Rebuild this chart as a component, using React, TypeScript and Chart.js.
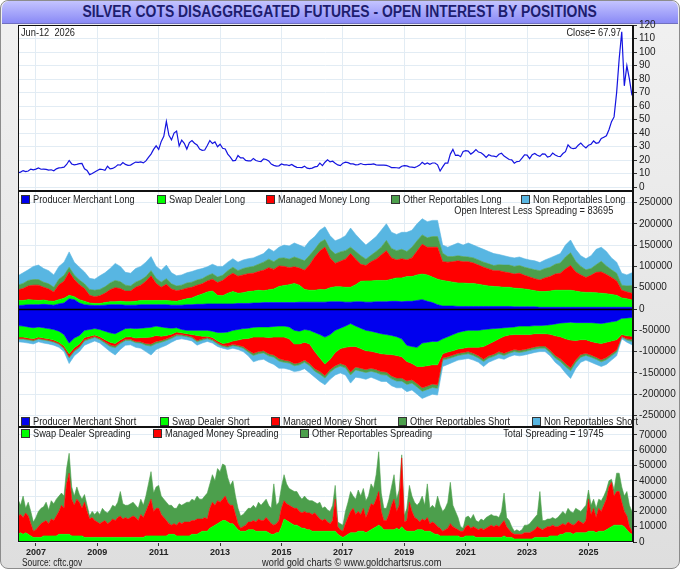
import React, { useEffect, useRef } from 'react';
import { Chart, registerables } from 'chart.js';

Chart.register(...registerables);

// ---- price, monthly Jun 2006 .. Jun 2026 ----
const silverPrice = [
    10.7, 11.2, 12.3, 11.6, 12.0, 13.4, 12.9,
    13.4, 14.2, 13.3, 13.4, 13.2, 12.7, 12.9, 12.2, 13.6, 14.3, 14.5, 14.8,
    16.8, 19.8, 17.2, 16.6, 16.9, 17.4, 17.6, 13.6, 12.4, 9.3, 10.2, 11.3,
    12.4, 13.3, 13.1, 12.5, 15.5, 13.6, 13.9, 14.9, 16.6, 16.3, 18.3, 16.9,
    16.2, 16.4, 17.6, 18.6, 18.4, 18.7, 18.0, 19.5, 22.0, 24.5, 28.0, 30.6,
    28.0, 33.9, 37.7, 48.6, 38.4, 35.0, 40.0, 41.5, 30.5, 34.8, 32.5, 28.2,
    33.0, 34.5, 32.5, 31.3, 28.3, 27.3, 27.5, 30.8, 34.5, 32.3, 33.5, 30.0,
    31.8, 28.8, 28.3, 24.5, 22.3, 19.5, 19.8, 23.5, 21.7, 21.8, 19.8, 19.5,
    19.5, 21.3, 19.8, 19.2, 19.0, 21.0, 20.5, 19.4, 17.1, 16.2, 15.6, 15.8,
    17.2, 16.6, 16.6, 16.0, 16.8, 15.6, 14.7, 14.6, 14.5, 15.6, 14.1, 13.8,
    14.1, 15.0, 15.4, 17.8, 16.0, 18.5, 20.3, 18.7, 19.2, 17.7, 16.5, 16.0,
    17.8, 18.5, 18.2, 17.3, 17.3, 16.6, 16.7, 17.5, 16.8, 16.7, 17.0, 16.9,
    17.3, 16.5, 16.3, 16.4, 16.4, 16.1, 15.5, 14.5, 14.6, 14.4, 14.2, 15.5,
    16.0, 15.8, 15.1, 14.9, 14.5, 15.3, 16.4, 18.4, 17.0, 18.0, 17.0, 17.9,
    17.9, 16.6, 12.0, 15.0, 17.8, 17.8, 24.5, 28.0, 23.5, 23.8, 22.6, 26.4,
    27.0, 26.7, 24.5, 25.9, 27.9, 26.0, 25.5, 24.0, 22.0, 24.0, 23.2, 23.0,
    22.5, 24.4, 25.1, 23.0, 21.8, 20.5, 20.2, 17.8, 19.0, 19.2, 21.5, 24.0,
    23.8, 21.1, 24.1, 25.0, 23.6, 22.8, 24.7, 24.5, 22.3, 22.9, 25.3, 23.8,
    22.9, 22.7, 24.9, 26.3, 31.3, 29.2, 28.5, 28.9, 31.1, 32.7, 30.6, 29.0,
    31.0, 31.8, 34.2, 32.5, 33.0, 36.0, 37.0, 38.0, 42.5, 48.5, 52.0, 70.0,
    95.0, 115.0, 75.0, 90.0, 80.0, 68.0
];

// ---- positions in thousands of contracts, every 2 months Jun 2006 .. Jun 2026 ----
const producerLong = [
    8, 9, 10, 10,
    10, 11, 10, 9, 12, 14,  24, 22, 14, 10, 9, 8,  8, 9, 10, 10, 10, 9,
    9, 9, 10, 10, 10, 10,  10, 10, 9, 9, 9, 10,  10, 11, 11, 12, 12, 12,
    12, 12, 12, 13, 13, 13,  14, 14, 15, 15, 15, 15,  15, 15, 15, 16, 16, 16,
    16, 16, 16, 17, 17, 17,  16, 16, 17, 17, 16, 16,  17, 17, 17, 18, 18, 17,
    18, 18, 20, 22, 18, 15,  10, 7, 7, 7, 6, 6,  6, 6, 6, 6, 6, 6,
    6, 6, 6, 5, 5, 5,  5, 5, 4, 4, 4, 4,  4, 4, 4, 4, 4, 4,
    4, 4, 4, 4, 4, 4,  4, 4, 4
];
const swapLong = [
    12, 11, 12, 11,
    10, 10, 9, 9, 10, 11,  8, 7, 8, 8, 5, 5,  5, 6, 7, 7, 8, 8,
    8, 9, 10, 10, 10, 10,  10, 10, 10, 9, 12, 14,  16, 20, 24, 28, 30, 20,
    19, 25, 29, 24, 25, 28,  28, 30, 28, 30, 32, 38,  40, 42, 45, 40, 30, 28,
    28, 30, 29, 33, 35, 35,  35, 35, 40, 48, 50, 50,  50, 50, 50, 52, 55, 56,
    58, 58, 60, 60, 62, 60,  60, 60, 58, 56, 55, 55,  54, 54, 52, 50, 48, 47,
    46, 45, 45, 44, 43, 42,  40, 38, 37, 37, 38, 40,  40, 40, 40, 38, 36, 35,
    35, 34, 33, 32, 30, 28,  22, 20, 17
];
const managedLong = [
    25, 28, 32, 35,
    36, 30, 28, 22, 35, 40,  55, 40, 35, 30, 18, 16,  18, 22, 28, 33, 30, 25,
    25, 33, 36, 45, 58, 40,  31, 38, 28, 25, 24, 25,  25, 25, 24, 26, 28, 30,
    36, 40, 43, 40, 42, 42,  42, 44, 48, 52, 46, 48,  45, 40, 39, 40, 45, 60,
    78, 90, 100, 70, 55, 60,  66, 79, 60, 40, 36, 45,  50, 60, 70, 50, 42, 45,
    39, 44, 56, 70, 65, 70,  75, 44, 45, 48, 52, 50,  51, 48, 45, 42, 40, 37,
    38, 36, 34, 33, 36, 32,  30, 28, 27, 32, 34, 38,  40, 50, 58, 45, 40, 35,
    40, 48, 50, 45, 40, 34,  18, 16, 16
];
const otherLong = [
    11, 12, 13, 13,
    13, 12, 12, 11, 13, 14,  11, 11, 11, 11, 14, 15,  15, 15, 16, 17, 16, 14,
    12, 12, 12, 11, 12, 12,  12, 13, 12, 11, 11, 12,  12, 12, 12, 12, 13, 13,
    12, 13, 14, 13, 15, 15,  16, 17, 19, 20, 18, 18,  20, 20, 23, 22, 22, 22,
    18, 20, 18, 20, 22, 22,  20, 15, 18, 20, 15, 15,  18, 18, 24, 22, 22, 22,
    20, 25, 24, 22, 22, 25,  25, 20, 13, 12, 12, 12,  11, 12, 12, 12, 12, 12,
    14, 16, 18, 18, 18, 19,  20, 21, 22, 22, 22, 23,  24, 28, 30, 25, 20, 18,
    16, 18, 25, 20, 18, 18,  12, 14, 18
];
const nonRepLong = [
    22, 25, 25, 31,
    34, 32, 31, 29, 30, 31,  36, 30, 30, 28, 26, 26,  32, 33, 34, 40, 36, 30,
    30, 32, 32, 34, 33, 28,  28, 32, 26, 24, 24, 24,  25, 24, 24, 21, 22, 25,
    21, 20, 20, 20, 20, 20,  20, 20, 20, 25, 24, 26,  30, 31, 33, 32, 32, 34,
    30, 29, 30, 32, 31, 31,  35, 45, 40, 37, 33, 34,  35, 40, 39, 38, 38, 40,
    45, 40, 40, 38, 38, 38,  38, 19, 22, 27, 30, 27,  33, 30, 30, 30, 29, 28,
    24, 22, 19, 20, 20, 20,  20, 21, 19, 20, 22, 20,  22, 28, 30, 28, 25, 26,
    30, 36, 33, 34, 28, 26,  28, 26, 30
];
const producerShort = [
    -39, -40, -42, -44,
    -42, -44, -46, -48, -52, -60,  -80, -68, -62, -50, -48, -46,  -48, -52, -56, -58, -52, -46,
    -45, -46, -45, -44, -43, -40,  -42, -44, -45, -44, -48, -50,  -50, -50, -50, -50, -52, -55,
    -55, -54, -50, -48, -46, -45,  -43, -42, -42, -42, -41, -40,  -40, -42, -50, -52, -48, -50,
    -55, -60, -66, -60, -50, -45,  -40, -34, -40, -45, -50, -52,  -55, -58, -60, -62, -65, -70,
    -85, -88, -90, -80, -78, -76,  -76, -70, -65, -60, -55, -52,  -50, -50, -50, -48, -47, -46,
    -45, -44, -43, -42, -40, -40,  -40, -39, -39, -38, -37, -35,  -33, -32, -31, -32, -32, -32,
    -32, -33, -34, -32, -30, -28,  -22, -21, -20
];
const swapShort = [
    -27, -26, -26, -26,
    -24, -24, -24, -25, -26, -27,  -25, -23, -20, -17, -16, -15,  -17, -20, -22, -23, -21, -20,
    -20, -22, -22, -23, -23, -22,  -22, -18, -14, -10, -8, -8,  -10, -12, -14, -14, -15, -20,
    -26, -25, -25, -25, -24, -24,  -23, -24, -24, -25, -25, -26,  -26, -28, -32, -30, -30, -32,
    -45, -55, -63, -58, -52, -48,  -50, -54, -48, -48, -48, -47,  -47, -47, -46, -45, -44, -42,
    -38, -40, -45, -55, -55, -55,  -55, -35, -36, -38, -39, -40,  -40, -40, -40, -40, -35, -30,
    -25, -20, -18, -18, -20, -20,  -20, -19, -19, -20, -22, -28,  -32, -38, -42, -42, -40, -40,
    -44, -46, -47, -46, -45, -44,  -38, -42, -44
];
const managedShort = [
    -3, -3, -3, -3,
    -3, -3, -3, -3, -3, -4,  -7, -6, -6, -5, -4, -3,  -4, -5, -6, -6, -5, -5,
    -6, -8, -10, -14, -16, -14,  -10, -8, -6, -5, -4, -4,  -5, -12, -6, -3, -4, -4,
    -4, -8, -8, -12, -18, -28,  -38, -34, -32, -38, -42, -50,  -54, -52, -46, -44, -42, -46,
    -40, -32, -27, -24, -31, -35,  -42, -60, -48, -46, -44, -40,  -40, -42, -42, -50, -53, -50,
    -46, -38, -40, -50, -48, -45,  -47, -10, -11, -10, -10, -10,  -10, -14, -20, -30, -28, -30,
    -30, -40, -38, -35, -37, -35,  -32, -31, -29, -29, -38, -46,  -52, -58, -65, -46, -35, -32,
    -32, -34, -38, -36, -30, -24,  -4, -7, -7
];
const otherShort = [
    -2, -2, -2, -2,
    -2, -2, -2, -2, -2, -2,  -3, -3, -3, -3, -3, -3,  -3, -3, -4, -4, -3, -3,
    -3, -3, -3, -4, -5, -5,  -4, -4, -4, -4, -3, -3,  -3, -3, -3, -3, -3, -3,
    -3, -3, -3, -3, -4, -4,  -5, -5, -5, -5, -5, -6,  -5, -5, -5, -5, -5, -5,
    -6, -6, -6, -6, -6, -6,  -6, -7, -7, -7, -7, -7,  -7, -7, -7, -7, -7, -7,
    -8, -8, -8, -8, -8, -8,  -8, -5, -5, -5, -5, -5,  -5, -5, -5, -5, -5, -5,
    -5, -5, -5, -5, -5, -5,  -5, -5, -5, -5, -5, -6,  -6, -7, -7, -6, -6, -5,
    -5, -5, -5, -5, -5, -5,  -2, -3, -5
];
const nonRepShort = [
    -6, -7, -7, -7,
    -6, -7, -7, -7, -7, -7,  -13, -10, -9, -10, -9, -8,  -8, -10, -12, -17, -14, -11,
    -10, -11, -12, -15, -21, -14,  -12, -11, -9, -9, -7, -7,  -7, -8, -7, -6, -6, -6,
    -4, -5, -6, -7, -8, -9,  -15, -15, -15, -15, -17, -17,  -14, -15, -14, -14, -15, -17,
    -14, -17, -16, -17, -16, -16,  -17, -19, -17, -16, -16, -14,  -16, -16, -15, -16, -16, -16,
    -17, -16, -17, -17, -16, -16,  -16, -15, -13, -12, -11, -11,  -11, -11, -10, -12, -10, -9,
    -10, -9, -8, -8, -8, -8,  -8, -8, -8, -8, -8, -10,  -12, -15, -18, -14, -12, -11,
    -12, -12, -11, -11, -10, -9,  -4, -5, -8
];

// ---- spreading, thousands, monthly Jun 2006 .. Jun 2026 ----
const swapSpread = [
    5, 6, 5, 6, 5, 4, 3,
    3, 3, 3, 4, 4, 4, 4, 4, 4, 5, 5, 5,
    5, 5, 4, 4, 4, 4, 4, 3, 3, 3, 3, 3,
    3, 3, 3, 3, 3, 3, 3, 3, 3, 3, 3, 3,
    3, 3, 3, 3, 3, 3, 3, 4, 4, 4, 4, 4,
    4, 4, 4, 4, 5, 5, 5, 4, 4, 4, 4, 4,
    4, 5, 5, 5, 6, 7, 7, 7, 9, 10, 11, 12,
    13, 14, 14, 13, 12, 12, 10, 8, 7, 7, 7, 8,
    8, 8, 7, 7, 7, 7, 7, 6, 5, 5, 6, 6,
    10, 15, 14, 13, 12, 11, 11, 10, 9, 9, 8, 8,
    7, 7, 7, 7, 7, 7, 7, 7, 7, 7, 5, 4,
    3, 4, 5, 6, 6, 6, 7, 7, 7, 6, 7, 8,
    9, 10, 11, 10, 8, 8, 8, 8, 8, 9, 8, 10,
    8, 7, 7, 7, 7, 8, 8, 8, 7, 7, 7, 6,
    5, 5, 4, 4, 4, 4, 4, 4, 4, 4, 3, 3,
    4, 4, 4, 4, 3, 3, 3, 3, 3, 3, 3, 3,
    3, 3, 3, 4, 3, 3, 3, 2, 2, 2, 2, 2,
    2, 2, 2, 3, 3, 3, 3, 3, 3, 4, 4, 4,
    4, 5, 5, 6, 6, 6, 5, 6, 6, 6, 6, 6,
    7, 7, 7, 6, 7, 7, 7, 8, 9, 10, 11, 11,
    11, 11, 10, 8, 6, 5
];
const managedSpread = [
    12, 12, 11, 13, 12, 8, 4,
    5, 7, 9, 9, 10, 8, 11, 10, 13, 15, 19, 17,
    33, 40, 24, 20, 24, 22, 18, 23, 17, 12, 13, 11,
    10, 9, 10, 11, 9, 10, 12, 11, 13, 14, 12, 13,
    12, 13, 14, 13, 11, 15, 13, 16, 20, 24, 16, 18,
    18, 14, 12, 10, 7, 6, 7, 7, 9, 8, 9, 9,
    9, 9, 9, 10, 9, 8, 9, 8, 13, 16, 13, 15,
    13, 14, 16, 13, 12, 12, 8, 4, 2, 3, 4, 5,
    5, 6, 6, 8, 7, 7, 9, 8, 7, 6, 6, 8,
    12, 12, 11, 11, 11, 11, 11, 10, 10, 11, 11, 11,
    11, 12, 10, 8, 7, 8, 6, 5, 7, 21, 5, 4,
    4, 8, 11, 14, 16, 12, 13, 11, 15, 10, 13, 17,
    15, 18, 22, 10, 6, 6, 10, 16, 20, 11, 16, 45,
    5, 7, 19, 13, 9, 7, 5, 7, 7, 9, 5, 7,
    7, 5, 5, 3, 4, 5, 8, 6, 5, 4, 4, 4,
    6, 7, 5, 6, 6, 5, 6, 5, 6, 7, 8, 7,
    8, 7, 9, 10, 7, 5, 3, 3, 3, 3, 3, 4,
    4, 4, 5, 5, 7, 6, 5, 6, 7, 6, 7, 6,
    6, 6, 7, 5, 7, 6, 6, 6, 8, 7, 6, 8,
    21, 11, 15, 10, 15, 13, 17, 20, 27, 29, 19, 22,
    22, 15, 10, 9, 4, 2
];
const otherSpread = [
    11, 6, 14, 3, 9, 8, 6,
    8, 10, 10, 10, 12, 9, 12, 11, 11, 10, 8, 8,
    10, 13, 8, 6, 8, 5, 6, 5, 4, 2, 4, 4,
    7, 6, 9, 6, 7, 8, 9, 9, 10, 16, 10, 8,
    9, 9, 9, 8, 8, 10, 8, 10, 14, 18, 12, 14,
    15, 12, 12, 12, 12, 13, 10, 11, 12, 12, 12, 13,
    13, 14, 13, 15, 13, 13, 14, 17, 16, 18, 16, 21,
    20, 23, 20, 16, 13, 16, 12, 10, 8, 8, 9, 9,
    9, 10, 9, 11, 10, 12, 12, 10, 10, 27, 12, 12,
    14, 17, 13, 11, 11, 11, 11, 10, 9, 10, 9, 8,
    9, 7, 8, 11, 8, 8, 8, 8, 10, 9, 3, 4,
    4, 8, 10, 13, 8, 10, 14, 12, 13, 11, 10, 13,
    11, 16, 26, 12, 8, 8, 10, 12, 16, 8, 10, 2,
    4, 8, 11, 10, 10, 9, 13, 15, 10, 22, 10, 11,
    10, 20, 15, 13, 14, 17, 27, 14, 11, 8, 3, 2,
    6, 6, 6, 8, 5, 5, 6, 6, 7, 7, 7, 7,
    6, 6, 8, 18, 6, 6, 4, 2, 3, 2, 3, 5,
    5, 6, 7, 8, 8, 24, 6, 5, 5, 5, 5, 5,
    6, 7, 8, 7, 9, 8, 8, 10, 7, 7, 10, 10,
    6, 6, 6, 6, 6, 7, 6, 6, 4, 2, 4, 12,
    12, 10, 10, 16, 14, 13
];

const yearTicks = [2007, 2009, 2011, 2013, 2015, 2017, 2019, 2021, 2023, 2025];
const priceTicks = [0, 10, 20, 30, 40, 50, 60, 70, 80, 90, 100, 110, 120];
const oiTicks = [-250000, -200000, -150000, -100000, -50000, 0, 50000, 100000, 150000, 200000, 250000];
const spreadTicks = [0, 10000, 20000, 30000, 40000, 50000, 60000, 70000];

const BLUE = '#0000ee';
const GREEN = '#00ff00';
const RED = '#ff0000';
const DKGREEN = '#4c9f4c';
const LTBLUE = '#58b6e2';
const GRID = '#e2ecf4';
const FONT = "'Liberation Sans', Arial, sans-serif";
const SQUEEZE = 0.84;

const monthX = (i: number) => 2006 + (5 + i) / 12;
const biMonthX = (i: number) => 2006 + (5 + 2 * i) / 12;
const toPoints = (vals: number[], xf: (i: number) => number, k = 1) =>
    vals.map((v, i) => ({ x: xf(i), y: v * k }));

function area(label, vals, xf, axis, stack, color, first) {
    return {
        label,
        data: toPoints(vals, xf, 1000),
        yAxisID: axis,
        stack,
        fill: first ? 'origin' : '-1',
        backgroundColor: color,
        borderColor: color,
        borderWidth: 0.6,
        pointRadius: 0,
        tension: 0
    };
}

const panelFrame = {
    id: 'panelFrame',
    beforeDraw(chart) {
        const { ctx, chartArea: a } = chart;
        ctx.save();
        ctx.fillStyle = '#ffffff';
        ctx.fillRect(a.left, a.top, a.right - a.left, a.bottom - a.top);
        ctx.restore();
    },
    afterDatasetsDraw(chart) {
        const { ctx, chartArea: a } = chart;
        const y0 = Math.round(chart.scales.yOI.getPixelForValue(0)) + 0.5;
        ctx.save();
        ctx.strokeStyle = '#000';
        ctx.lineWidth = 1.5;
        ctx.beginPath();
        ctx.moveTo(a.left, y0);
        ctx.lineTo(a.right, y0);
        ctx.stroke();
        ctx.restore();
    },
    afterDraw(chart) {
        const { ctx, chartArea: a } = chart;
        ctx.save();
        ctx.strokeStyle = '#111';
        ctx.lineWidth = 1;
        ctx.strokeRect(a.left + 0.5, a.top + 0.5, a.right - a.left - 1, a.bottom - a.top - 1);
        ctx.lineWidth = 2;
        [chart.scales.yOI.top, chart.scales.ySp.top].forEach(y => {
            ctx.beginPath();
            ctx.moveTo(a.left, y);
            ctx.lineTo(a.right, y);
            ctx.stroke();
        });
        ctx.restore();
    }
};

function yAxis(weight, min, max, ticks, stacked) {
    return {
        type: 'linear',
        position: 'right',
        stack: 'panes',
        stackWeight: weight,
        stacked,
        min,
        max,
        afterBuildTicks: s => { s.ticks = ticks.map(v => ({ value: v })); },
        afterFit: s => { s.width = 47; },
        ticks: {
            callback: v => String(v),
            autoSkip: false,
            font: { family: FONT, size: 10 },
            color: '#222',
            padding: 2
        },
        grid: { color: GRID, tickColor: '#333', tickLength: 4 },
        border: { display: true, color: '#111' }
    };
}

function Squeezed({ text, size, origin, weight = 'normal', k = SQUEEZE }: any) {
    return (
        <span style={{
            display: 'inline-block', transform: `scaleX(${k})`, transformOrigin: origin,
            fontFamily: FONT, fontSize: size, fontWeight: weight, color: '#222',
            lineHeight: size + 'px', whiteSpace: 'pre'
        }}>{text}</span>
    );
}

function Legend({ x, y, color, text }) {
    return (
        <div style={{ position: 'absolute', left: x, top: y - 6, height: 12, display: 'flex', alignItems: 'center', whiteSpace: 'nowrap' }}>
            <span style={{ display: 'inline-block', width: 7, height: 7, background: color, border: '1px solid #333', marginRight: 3 }} />
            <Squeezed text={text} size={11} origin="left center" />
        </div>
    );
}

function Label({ x, y, right, text, size = 11, anchor = 'left', k = SQUEEZE }: any) {
    const style: any = {
        position: 'absolute', top: y - 6, height: 12, display: 'flex', alignItems: 'center', whiteSpace: 'pre'
    };
    let origin = 'left center';
    if (anchor === 'right') { style.right = 680 - right; style.justifyContent = 'flex-end'; origin = 'right center'; }
    else if (anchor === 'center') { style.left = x - 200; style.width = 400; style.justifyContent = 'center'; origin = 'center center'; }
    else style.left = x;
    return <div style={style}><Squeezed text={text} size={size} origin={origin} k={k} /></div>;
}

export default function App() {
    const canvas = useRef(null);

    useEffect(() => {
        const chart = new Chart(canvas.current, {
            type: 'line',
            data: {
                datasets: [
                    {
                        label: 'Silver',
                        data: toPoints(silverPrice, monthX),
                        yAxisID: 'yPrice',
                        borderColor: '#1414e0',
                        borderWidth: 1.2,
                        pointRadius: 0,
                        fill: false
                    },
                    area('Producer Merchant Long', producerLong, biMonthX, 'yOI', 'long', BLUE, true),
                    area('Swap Dealer Long', swapLong, biMonthX, 'yOI', 'long', GREEN, false),
                    area('Managed Money Long', managedLong, biMonthX, 'yOI', 'long', RED, false),
                    area('Other Reportables Long', otherLong, biMonthX, 'yOI', 'long', DKGREEN, false),
                    area('Non Reportables Long', nonRepLong, biMonthX, 'yOI', 'long', LTBLUE, false),
                    area('Producer Merchant Short', producerShort, biMonthX, 'yOI', 'short', BLUE, true),
                    area('Swap Dealer Short', swapShort, biMonthX, 'yOI', 'short', GREEN, false),
                    area('Managed Money Short', managedShort, biMonthX, 'yOI', 'short', RED, false),
                    area('Other Reportables Short', otherShort, biMonthX, 'yOI', 'short', DKGREEN, false),
                    area('Non Reportables Short', nonRepShort, biMonthX, 'yOI', 'short', LTBLUE, false),
                    area('Swap Dealer Spreading', swapSpread, monthX, 'ySp', 'spread', GREEN, true),
                    area('Managed Money Spreading', managedSpread, monthX, 'ySp', 'spread', RED, false),
                    area('Other Reportables Spreading', otherSpread, monthX, 'ySp', 'spread', DKGREEN, false)
                ]
            },
            options: {
                animation: false,
                responsive: false,
                layout: { padding: { left: 18, top: 25, right: 0, bottom: 0 }, autoPadding: false },
                plugins: { legend: { display: false }, tooltip: { enabled: false } },
                scales: {
                    x: {
                        type: 'linear',
                        min: 2006.417,
                        max: 2026.45,
                        afterBuildTicks: s => { s.ticks = yearTicks.map(v => ({ value: v })); },
                        afterFit: s => { s.height = 27; },
                        ticks: {
                            callback: v => String(v),
                            font: { family: FONT, size: 9, weight: 'bold' },
                            color: '#222',
                            padding: 1,
                            maxRotation: 0,
                            autoSkip: false
                        },
                        grid: { color: GRID, tickColor: '#333', tickLength: 4 },
                        border: { display: false }
                    },
                    yPrice: yAxis(166, -2.8, 120, priceTicks, false),
                    yOI: yAxis(236, -277000, 277000, oiTicks, true),
                    ySp: yAxis(115, 0, 75200, spreadTicks, true)
                }
            },
            plugins: [panelFrame]
        });
        return () => {
            chart.destroy();
        };
    }, []);

    return (
        <div style={{
            position: 'absolute', left: 0, top: 0, width: 680, height: 569, boxSizing: 'border-box',
            background: 'linear-gradient(to bottom, #f1f1f1, #dedede)', border: '1px solid #8c8c8c',
            borderRadius: 8, overflow: 'hidden'
        }}>
            <div style={{
                position: 'absolute', left: 1, top: 0, width: 676, height: 22,
                background: 'linear-gradient(to bottom, #c4c4ff, #8a8af6)', borderRadius: '7px 7px 0 0',
                borderBottom: '1px solid #7070c0', textAlign: 'center', lineHeight: '22px'
            }}>
                <span style={{
                    display: 'inline-block', transform: 'scaleX(0.87)', transformOrigin: 'center center',
                    fontFamily: FONT, fontWeight: 'bold', fontSize: 16, color: '#1d1d6e', whiteSpace: 'pre'
                }}>SILVER COTS DISAGGREGATED FUTURES - OPEN INTEREST BY POSITIONS</span>
            </div>
            <canvas ref={canvas} width={680} height={569} style={{ position: 'absolute', left: -1, top: -1 }}></canvas>

            <Label x={20} y={31} text={'Jun-12  2026'} />
            <Label right={622} y={31} anchor="right" text="Close= 67.97" />

            <Legend x={20} y={198} color={BLUE} text="Producer Merchant Long" />
            <Legend x={156} y={198} color={GREEN} text="Swap Dealer Long" />
            <Legend x={265} y={198} color={RED} text="Managed Money Long" />
            <Legend x={390} y={198} color={DKGREEN} text="Other Reportables Long" />
            <Legend x={520} y={198} color={LTBLUE} text="Non Reportables Long" />
            <Label right={614} y={209} anchor="right" text="Open Interest Less Spreading = 83695" />

            <Legend x={20} y={420} color={BLUE} text="Producer Merchant Short" />
            <Legend x={159} y={420} color={GREEN} text="Swap Dealer Short" />
            <Legend x={270} y={420} color={RED} text="Managed Money Short" />
            <Legend x={397} y={420} color={DKGREEN} text="Other Reportables Short" />
            <Legend x={531} y={420} color={LTBLUE} text="Non Reportables Short" />

            <Legend x={20} y={432} color={GREEN} text="Swap Dealer Spreading" />
            <Legend x={152} y={432} color={RED} text="Managed Money Spreading" />
            <Legend x={299} y={432} color={DKGREEN} text="Other Reportables Spreading" />
            <Label right={605} y={432} anchor="right" text="Total Spreading = 19745" />

            <Label x={21} y={562} size={10} text="Source: cftc.gov" />
            <Label x={351} y={561} anchor="center" text="world gold charts © www.goldchartsrus.com" />
        </div>
    );
}
